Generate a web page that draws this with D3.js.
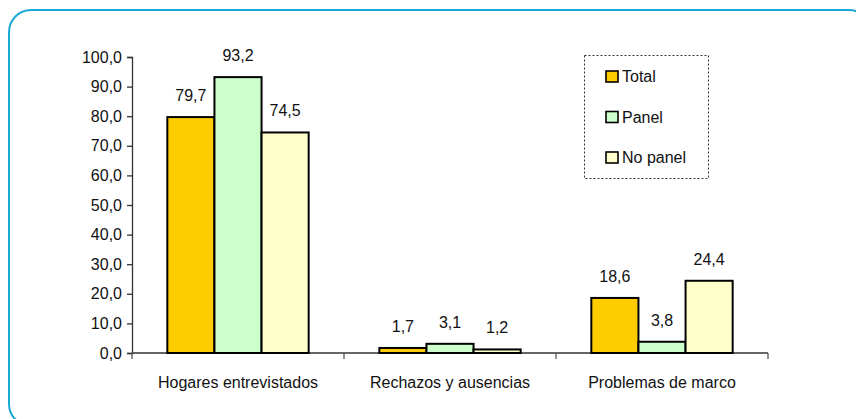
<!DOCTYPE html>
<html>
<head>
<meta charset="utf-8">
<script src="https://cdn.jsdelivr.net/npm/d3@7"></script>
<style>
  html, body { margin: 0; padding: 0; background: #fff; }
  svg { display: block; font-family: "Liberation Sans", Arial, sans-serif; }
</style>
</head>
<body>
<svg id="chart" width="856" height="419"></svg>
<script>
// Category labels and series values
const categories = ["Hogares entrevistados", "Rechazos y ausencias", "Problemas de marco"];
const seriesNames = ["Total", "Panel", "No panel"];
const totalValues = [79.7, 1.7, 18.6];
const panelValues = [93.2, 3.1, 3.8];
const noPanelValues = [74.5, 1.2, 24.4];
const seriesColors = ["#FFCC00", "#CCFFCC", "#FFFFCC"];
const yTicks = [0, 10, 20, 30, 40, 50, 60, 70, 80, 90, 100];

const seriesValues = [totalValues, panelValues, noPanelValues];
const fmt = v => d3.format(".1f")(v).replace(".", ",");

const svg = d3.select("#chart");

// Rounded frame around the whole chart
svg.append("rect")
  .attr("x", 9).attr("y", 10)
  .attr("width", 862).attr("height", 416)
  .attr("rx", 22).attr("ry", 22)
  .attr("fill", "none")
  .attr("stroke", "#1AA9D2")
  .attr("stroke-width", 2);

const plot = { left: 132, right: 768, top: 57, bottom: 353 };

const y = d3.scaleLinear().domain([0, 100]).range([plot.bottom, plot.top]);
const x0 = d3.scaleBand().domain(categories).range([plot.left, plot.right]).padding(0);
const x1 = d3.scaleBand().domain(seriesNames).range([0, x0.bandwidth()])
  .paddingInner(0).paddingOuter(0.75);

// Y axis
const yAxis = svg.append("g")
  .attr("transform", `translate(${plot.left},0)`)
  .call(d3.axisLeft(y).tickValues(yTicks).tickFormat(fmt).tickSizeOuter(0).tickSize(5).tickPadding(5));
yAxis.select(".domain").attr("stroke", "#333").attr("stroke-width", 1.3);
yAxis.selectAll(".tick line").attr("stroke", "#333").attr("stroke-width", 1.3);
yAxis.selectAll(".tick text").attr("fill", "#111").style("font-size", "16px")
  .attr("font-family", "Liberation Sans, Arial, sans-serif");

// X axis baseline with category separators
const xAxisG = svg.append("g").attr("transform", `translate(0,${plot.bottom})`);
xAxisG.append("line")
  .attr("x1", plot.left).attr("x2", plot.right)
  .attr("y1", 0).attr("y2", 0)
  .attr("stroke", "#333").attr("stroke-width", 1.3);
const boundaries = categories.map(c => x0(c)).concat([x0(categories[categories.length - 1]) + x0.bandwidth()]);
xAxisG.selectAll("line.sep").data(boundaries).enter().append("line")
  .attr("class", "sep")
  .attr("x1", d => d).attr("x2", d => d)
  .attr("y1", 0).attr("y2", 6)
  .attr("stroke", "#555").attr("stroke-width", 1.3);
xAxisG.selectAll("text.cat").data(categories).enter().append("text")
  .attr("class", "cat")
  .attr("x", d => x0(d) + x0.bandwidth() / 2)
  .attr("y", 35)
  .attr("text-anchor", "middle")
  .attr("fill", "#111")
  .style("font-size", "16px")
  .text(d => d);

// Bars
const groups = svg.append("g").selectAll("g").data(categories).enter().append("g")
  .attr("transform", d => `translate(${x0(d)},0)`);

groups.selectAll("rect")
  .data((c, ci) => seriesNames.map((s, si) => ({ s, si, v: seriesValues[si][ci] })))
  .enter().append("rect")
  .attr("x", d => x1(d.s))
  .attr("y", d => y(d.v))
  .attr("width", x1.bandwidth())
  .attr("height", d => y(0) - y(d.v))
  .attr("fill", d => seriesColors[d.si])
  .attr("stroke", "#000")
  .attr("stroke-width", 2);

groups.selectAll("text")
  .data((c, ci) => seriesNames.map((s, si) => ({ s, si, v: seriesValues[si][ci] })))
  .enter().append("text")
  .attr("x", d => x1(d.s) + x1.bandwidth() / 2)
  .attr("y", d => y(d.v) - 16)
  .attr("text-anchor", "middle")
  .attr("fill", "#111")
  .style("font-size", "16px")
  .text(d => fmt(d.v));

// Legend
const legend = svg.append("g");
legend.append("rect")
  .attr("x", 584.5).attr("y", 55.5)
  .attr("width", 124).attr("height", 123)
  .attr("fill", "#fff")
  .attr("stroke", "#333")
  .attr("stroke-width", 1)
  .attr("stroke-dasharray", "2,2");

const legendItems = legend.selectAll("g.item").data(seriesNames).enter().append("g")
  .attr("class", "item")
  .attr("transform", (d, i) => `translate(606,${71 + i * 40.5})`);
legendItems.append("rect")
  .attr("x", 0).attr("y", 0)
  .attr("width", 12).attr("height", 11)
  .attr("fill", (d, i) => seriesColors[i])
  .attr("stroke", "#000")
  .attr("stroke-width", 1.6);
legendItems.append("text")
  .attr("x", 16).attr("y", 11)
  .attr("fill", "#111")
  .style("font-size", "16px")
  .text(d => d);
</script>
</body>
</html>
